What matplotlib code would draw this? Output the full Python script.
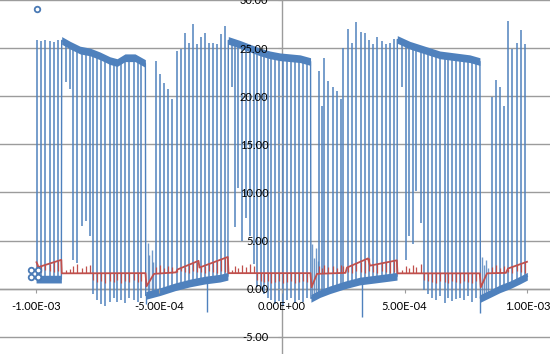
import numpy as np
import matplotlib
matplotlib.use("Agg")
import matplotlib.pyplot as plt

plt.rcParams['font.family'] = ['Lato', 'DejaVu Sans']

# ---------------- data (time in microseconds, values in volts) ----------------
# blue trace: carrier level (low baseline / high plateau)
blue_lvl_t = [-1000, -897.0, -895.6, -861, -821, -780, -740, -699, -670, -638, -597, -555.0,
              -553.5, -495, -434, -373, -312, -251, -219.0,
              -217.4, -170, -129, -88, -48, -7, 34, 75, 117.5,
              119.0, 156, 197, 258, 318, 380, 441, 469.5,
              470.6, 522, 583, 644, 705, 766, 807.0,
              809.0, 849, 889, 929, 970, 1000]
blue_lvl_v = [1.0, 1.0, 25.8, 25.3, 24.8, 24.6, 24.2, 23.7, 23.5, 24.0, 24.0, 23.4,
              -0.7, -0.3, 0.2, 0.6, 0.9, 1.1, 1.3,
              25.8, 25.4, 25.0, 24.6, 24.3, 24.1, 24.0, 23.9, 23.6,
              -1.0, -0.5, -0.1, 0.4, 0.8, 1.0, 1.2, 1.3,
              25.9, 25.3, 24.8, 24.3, 24.1, 23.9, 23.6,
              -1.0, -0.5, 0.0, 0.4, 0.9, 1.3]

# blue trace: pulses going up from the low level
blue_up_t = [-997.4, -979.9, -962.4, -944.5, -927.0, -909.5,
             -511.7, -495.4, -477.9, -461.7, -444.6,
             -427.5, -410.8, -394.9, -378.6, -361.9, -345.2, -328.5, -312.2, -295.1, -278.5, -262.2, -246.3, -230.0,
             153.1, 162.8, 173.4, 189.7, 207.6, 223.9, 240.2,
             250.8, 269.1, 287.0, 304.5, 321.6, 339.1, 356.2, 372.9, 389.6, 406.7, 423.8, 440.9, 457.2,
             857.4, 872.4, 888.7, 905.0,
             920.0, 938.8, 956.7, 974.2, 990.5]
blue_up_base = [1.0, 1.0, 1.0, 1.0, 1.0, 1.0,
                -0.2, -0.1, 0.0, 0.05, 0.1,
                0.2, 0.3, 0.35, 0.5, 0.6, 0.7, 0.8, 0.85, 0.9, 0.95, 1.0, 1.1, 1.2,
                -0.5, -0.4, -0.35, -0.2, -0.1, 0.1, 0.2,
                0.3, 0.4, 0.5, 0.6, 0.7, 0.8, 0.9, 1.0, 1.0, 1.05, 1.1, 1.2, 1.2,
                -0.4, -0.2, 0.0, 0.2,
                0.3, 0.5, 0.7, 0.9, 1.1]
blue_up_peak = [25.8, 25.7, 25.8, 25.7, 25.6, 25.8,
                23.7, 22.3, 21.4, 20.8, 19.7,
                24.7, 24.9, 26.6, 25.5, 27.5, 25.4, 26.2, 26.6, 25.5, 25.5, 25.4, 26.5, 27.3,
                22.6, 19.0, 24.0, 21.6, 21.0, 20.5, 19.7,
                25.0, 27.0, 25.5, 27.7, 26.7, 26.6, 25.8, 25.4, 26.2, 25.7, 25.4, 25.5, 25.9,
                19.9, 21.7, 21.0, 19.0,
                27.8, 24.9, 25.5, 26.9, 25.4]

# blue trace: pulses going down from the high plateau
blue_dn_t = [-876.1, -859.8, -847.6, -831.3, -815.0, -798.7, -782.4, -766.2, -749.9, -733.6,
             -717.3, -701.0, -684.7, -668.5, -652.2, -635.9, -619.6, -603.3, -587.0, -570.8,
             -200.3, -190.1, -175.9, -161.6, -145.3, -129.1, -112.8, -98.5, -84.3, -70.0,
             -55.8, -41.5, -27.3, -11.0, 5.3, 21.6, 37.9, 54.1, 70.4, 86.7, 103.0,
             489.7, 506.0, 520.3, 534.5, 548.8, 565.1, 581.3, 597.6, 613.9, 630.2,
             646.5, 662.8, 679.0, 695.3, 711.6, 727.9, 744.2, 760.5, 776.7, 793.0]
blue_dn_level = [25.6, 25.3, 25.1, 24.9, 24.8, 24.7, 24.6, 24.5, 24.3, 24.2,
                 24.0, 23.8, 23.6, 23.5, 23.8, 24.0, 24.0, 24.0, 23.8, 23.6,
                 25.7, 25.6, 25.5, 25.3, 25.2, 25.0, 24.8, 24.7, 24.6, 24.4,
                 24.3, 24.2, 24.2, 24.1, 24.1, 24.0, 24.0, 23.9, 23.9, 23.8, 23.7,
                 25.7, 25.5, 25.3, 25.2, 25.0, 24.9, 24.8, 24.6, 24.5, 24.4,
                 24.3, 24.3, 24.2, 24.1, 24.1, 24.0, 24.0, 23.9, 23.8, 23.7]
blue_dn_bottom = [21.5, 20.8, 3.0, 2.7, 6.5, 7.0, 5.5, -0.5, -1.2, -1.6,
                  -1.8, -1.4, -1.0, -1.4, -1.2, -1.5, -1.0, -1.2, -1.4, -1.0,
                  21.0, 6.4, 10.5, 5.0, 7.4, 5.5, 2.6, 0.2, 0.0, -0.5,
                  -1.0, -1.2, -1.6, -1.3, -1.8, -1.2, -1.0, -1.5, -1.2, -1.4, -1.0,
                  21.0, 3.0, 5.5, 4.7, 10.2, 6.8, -0.1, -0.5, -1.0, -1.2,
                  -0.8, -1.5, -1.0, -1.3, -1.1, -1.0, -1.2, -0.8, -1.4, -1.0]

# blue trace: short noise bursts right after each plateau
blue_burst_t = [-546.3, -538.2, -530.0, -521.9, 125.4, 133.5, 141.7, 147.8, 815.4, 823.6, 831.7, 839.9]
blue_burst_base = [-0.6, -0.6, -0.5, -0.4, -1.0, -0.9, -0.8, -0.7, -1.0, -0.9, -0.8, -0.7]
blue_burst_peak = [4.8, 3.5, 4.0, 2.8, 4.7, 3.2, 4.2, 2.9, 3.3, 2.5, 3.0, 2.2]

# blue trace: deep negative glitches in the low level
blue_glitch_t = [-553.0, -305.3, 326.9, 809.3]
blue_glitch_top = [-0.5, 0.9, 0.8, -0.8]
blue_glitch_bottom = [-1.6, -2.4, -2.9, -2.5]

# red trace: main level
red_t = [-998.2, -990.1, -897.2, -895.2, -554.5, -550.4, -519.9, -430.3, -424.2, -338.7,
         -334.6, -219.4, -216.6, 117.2, 121.3, 143.7, 259.7, 265.8, 351.3, 359.5,
         468.6, 471.4, 806.5, 810.5, 835.8, 913.1, 921.3, 998.6]
red_v = [2.75, 2.25, 3.0, 1.6, 1.62, 0.25, 1.55, 1.7, 2.0, 2.9,
         2.2, 3.3, 1.62, 1.62, 0.15, 1.55, 1.65, 2.2, 3.15, 2.4,
         2.95, 1.6, 1.6, 0.15, 1.6, 1.65, 2.1, 2.8]

# red trace: teeth at each up pulse (level of the red line, tip of the tooth)
red_up_level = [2.7, 2.33, 2.47, 2.62, 2.76, 2.9,
                1.62, 1.62, 1.62, 1.62, 1.62,
                1.9, 2.14, 2.31, 2.48, 2.65, 2.83, 2.26, 2.41, 2.58, 2.74, 2.89, 3.04, 3.2,
                1.62, 1.62, 1.62, 1.62, 1.62, 1.62, 1.62,
                1.65, 2.24, 2.44, 2.63, 2.82, 3.02, 3.15, 2.47, 2.55, 2.64, 2.73, 2.81, 2.89,
                1.62, 1.62, 1.62, 1.62,
                2.1, 2.26, 2.42, 2.58, 2.73]
red_up_tip = [1.8, 1.7, 1.9, 1.8, 1.7, 1.8,
              2.3, 2.5, 2.2, 2.4, 2.3,
              1.7, 1.8, 1.7, 1.6, 1.8, 1.7, 1.7, 1.6, 1.8, 1.7, 1.6, 1.8, 1.7,
              2.4, 2.2, 2.5, 2.3, 2.4, 2.2, 2.5,
              2.4, 1.7, 1.6, 1.8, 1.7, 1.6, 1.8, 1.7, 1.6, 1.8, 1.7, 1.6, 1.7,
              2.3, 2.5, 2.2, 2.4,
              1.7, 1.6, 1.8, 1.7, 1.6]

# red trace: ticks at each plateau dip (from the flat level)
red_flat = 1.62
red_dn_tip = [1.9, 2.0, 2.4, 2.6, 2.2, 2.4, 2.5, 0.9, 0.7, 0.8,
              0.6, 0.8, 0.7, 0.9, 0.6, 0.8, 0.7, 0.9, 0.7, 0.8,
              1.9, 2.4, 2.2, 2.5, 2.3, 2.6, 2.4, 0.9, 0.8, 0.7,
              0.8, 0.6, 0.7, 0.8, 0.6, 0.7, 0.8, 0.6, 0.7, 0.8, 0.7,
              1.9, 2.4, 2.2, 2.5, 2.3, 2.6, 0.9, 0.8, 0.7, 0.6,
              0.8, 0.7, 0.6, 0.8, 0.7, 0.6, 0.8, 0.7, 0.6, 0.8]

# stray markers
mark_t = [-996.0, -1018.6, -994.1, -1018.6, -994.1]
mark_v = [29.04, 1.92, 1.92, 1.19, 1.19]

y_ticks = [-5, 0, 5, 10, 15, 20, 25, 30]
x_ticks = [-1.0e-3, -5.0e-4, 0.0, 5.0e-4, 1.0e-3]

# ---------------- drawing ----------------
BLUE = '#4f81bd'
RED = '#c0504d'
GRID = '#9c9c9c'


def sec(a):
    return np.asarray(a, dtype=float) * 1e-6


fig = plt.figure(figsize=(5.5, 3.54), dpi=100)
ax = fig.add_axes([0, 0, 1, 1])
ax.set_xlim(-1146.8e-6, 1092.3e-6)
ax.set_ylim(-6.78, 29.87)

for v in y_ticks:
    ax.axhline(v, color=GRID, lw=1.0, zorder=0.5)

lv = np.asarray(blue_lvl_v)
ax.fill_between(sec(blue_lvl_t), lv - 0.4, lv + 0.4, color=BLUE, lw=0, alpha=1.0, zorder=2)
ax.plot(sec(blue_lvl_t), lv, color=BLUE, lw=1.0, zorder=2)
ax.vlines(sec(blue_up_t), blue_up_base, blue_up_peak, color=BLUE, lw=1.15, alpha=0.95, zorder=2)
ax.vlines(sec(blue_dn_t), blue_dn_bottom, blue_dn_level, color=BLUE, lw=1.15, alpha=0.95, zorder=2)
ax.vlines(sec(blue_burst_t), blue_burst_base, blue_burst_peak, color=BLUE, lw=1.0, alpha=0.8, zorder=2)
ax.vlines(sec(blue_glitch_t), blue_glitch_bottom, blue_glitch_top, color=BLUE, lw=1.0, zorder=2)

ax.plot(sec(red_t), red_v, color=RED, lw=1.3, zorder=3)
ax.vlines(sec(blue_up_t), red_up_tip, red_up_level, color=RED, lw=0.9, zorder=3)
ax.vlines(sec(blue_dn_t), red_dn_tip, red_flat, color=RED, lw=0.9, zorder=3)

ax.plot(sec(mark_t), mark_v, 'o', ls='none', mfc='white', mec='#4a7ab5', ms=4, mew=1.3, zorder=4)

for side in ('top', 'right'):
    ax.spines[side].set_visible(False)
ax.spines['left'].set_position(('data', 0))
ax.spines['bottom'].set_position(('data', 0))
for side in ('left', 'bottom'):
    ax.spines[side].set_color(GRID)
    ax.spines[side].set_linewidth(1.0)
    ax.spines[side].set_zorder(0.6)
ax.set_axisbelow(False)

ax.set_yticks(y_ticks)
ax.set_yticklabels([f'{v:.2f}' for v in y_ticks])
ax.set_xticks(x_ticks)
ax.set_xticklabels([f'{v:.2E}' for v in x_ticks])
ax.tick_params(axis='both', direction='out', length=3, width=0.8, color=GRID,
               labelsize=8, labelcolor='black')
ax.tick_params(axis='y', pad=6.5)
ax.tick_params(axis='x', pad=6)

fig.savefig('out.png', dpi=100)
